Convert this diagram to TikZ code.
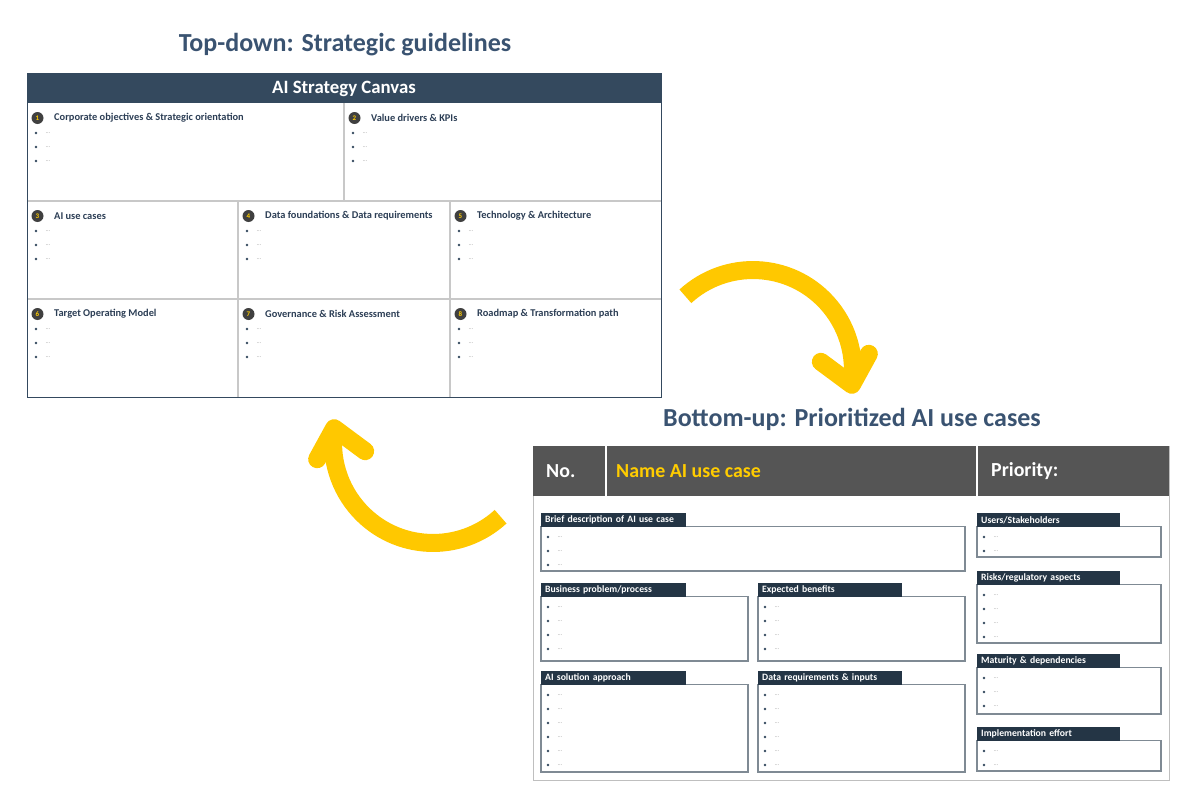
\documentclass[tikz,border=0pt]{standalone}
\usepackage{fontspec}
\setmainfont{Carlito}
\usetikzlibrary{positioning}

\definecolor{titleblue}{HTML}{3A5371}
\definecolor{canvasnavy}{HTML}{34495E}
\definecolor{tabnavy}{HTML}{243545}
\definecolor{cardgray}{HTML}{555555}
\definecolor{useyellow}{HTML}{FFCC00}
\definecolor{arrowyellow}{HTML}{FFC800}
\definecolor{gridgray}{HTML}{C8C8C8}
\definecolor{boxgray}{HTML}{7F8A94}

% bullet rows: name, x, y, count
\newcommand{\dotlist}[4]{%
  \foreach \k in {1,...,#4}{
    \fill[canvasnavy] (#2,#3+14*\k-14) circle (1.4);
    \node[dotfill] (#1-\k) at (#2+12,#3+14*\k-14) {\ldots};
  }}

\begin{document}
\begin{tikzpicture}[x=1pt, y=-1pt]
    \tikzset{
        head title/.style={font=\fontsize{26}{30}\selectfont\bfseries, text=titleblue},
        cell title/.style={anchor=west, inner sep=0, text=titleblue!75!black,
            font=\fontsize{10.4}{12}\selectfont\bfseries},
        cell num/.style={circle, fill=black!75, text=useyellow, inner sep=0,
            minimum size=12, font=\fontsize{7}{7}\selectfont\bfseries},
        dotfill/.style={inner sep=0, text=black!40, font=\fontsize{6}{6}\selectfont},
        tab label/.style={anchor=north west, fill=tabnavy, text=white, inner xsep=4, inner ysep=0,
            minimum height=13.5, align=left, font=\fontsize{9.7}{10}\selectfont\bfseries},
        field box/.style={draw=boxgray, line width=1.3},
        card text/.style={anchor=west, inner sep=0, font=\fontsize{19.9}{22}\selectfont\bfseries},
        arrow band/.style={draw=arrowyellow, line width=18},
        loop arrow/.pic={
            \draw [arrow band] (92.4,-110.2) arc [start angle=227.5, end angle=368.5, radius=100] coordinate (tip);
            \draw [arrow band, line cap=round, line join=round] (tip) +(-31,-23) -- (tip) -- +(17,-31);
        }
    }
    \useasboundingbox (0,0) rectangle (1200,800);

    % top-down canvas
    \node [head title] (topdown) at (345,45) {Top-down: Strategic guidelines};
    \fill [canvasnavy] (27,74) rectangle (661,103);
    \node [text=white, font=\fontsize{18.8}{20}\selectfont\bfseries] (canvas) at (344,88.5) {AI Strategy Canvas};

    \draw [gridgray, line width=1.3] (344,103) -- (344,201);
    \draw [gridgray, line width=1.3] (238,201) -- (238,397) (450,201) -- (450,397);
    \draw [gridgray, line width=1.3] (27,201) -- (661,201) (27,299) -- (661,299);
    \draw [canvasnavy, line width=1] (27,74) rectangle (661,397);

    \foreach \n/\xa/\ya/\ttl in {
        1/27/103/Corporate objectives \& Strategic orientation,
        2/344/103/Value drivers \& KPIs,
        3/27/201/AI use cases,
        4/238/201/Data foundations \& Data requirements,
        5/450/201/Technology \& Architecture,
        6/27/299/Target Operating Model,
        7/238/299/Governance \& Risk Assessment,
        8/450/299/Roadmap \& Transformation path}{
        \node [cell num] (num\n) at (\xa+10.5,\ya+15) {\n};
        \node [cell title] (cell\n) at (\xa+27,\ya+15) {\ttl};
        \dotlist{cell\n}{\xa+9}{\ya+30}{3}
    }

    % bottom-up use case card
    \node [head title] (bottomup) at (852,419) {Bottom-up: Prioritized AI use cases};
    \draw [black!25, line width=1] (533,446) rectangle (1169,780);
    \fill [cardgray] (533,446) rectangle (1169,496);
    \draw [white, line width=2.5] (606,446) -- (606,496) (977,446) -- (977,496);
    \node [card text, text=white] (no) at (546,471) {No.};
    \node [card text, text=useyellow] (usename) at (616,471) {Name AI use case};
    \node [card text, text=white] (prio) at (991,471) {Priority:};

    \foreach \nm/\xa/\ya/\xb/\yb/\tw/\cnt/\lbl in {
        brief/541/513/965/571/145/3/{Brief description of AI use case},
        problem/541/583/748/661/145/4/{Business problem/process},
        benefit/758/583/965/661/144/4/{Expected benefits},
        approach/541/671/748/772/145/6/{AI solution approach},
        datareq/758/671/965/772/144/6/{Data requirements \& inputs},
        users/977/513/1161/557/143/2/{Users/Stakeholders},
        risks/977/571/1161/643/143/4/{Risks/regulatory aspects},
        maturity/977/654/1161/714/143/3/{Maturity \& dependencies},
        effort/977/727/1161/771/143/2/{Implementation effort}}{
        \draw [field box] (\xa,\ya+13.5) rectangle (\xb,\yb);
        \node [tab label, minimum width=\tw, text width=\tw-8] (tab-\nm) at (\xa,\ya) {\lbl};
        \dotlist{\nm}{\xa+7}{\ya+24}{\cnt}
    }

    % the two loop arrows
    \pic (down) at (593,406.5) {loop arrow};
    \pic [rotate=180] (up) at (593,406.5) {loop arrow};
\end{tikzpicture}
\end{document}
